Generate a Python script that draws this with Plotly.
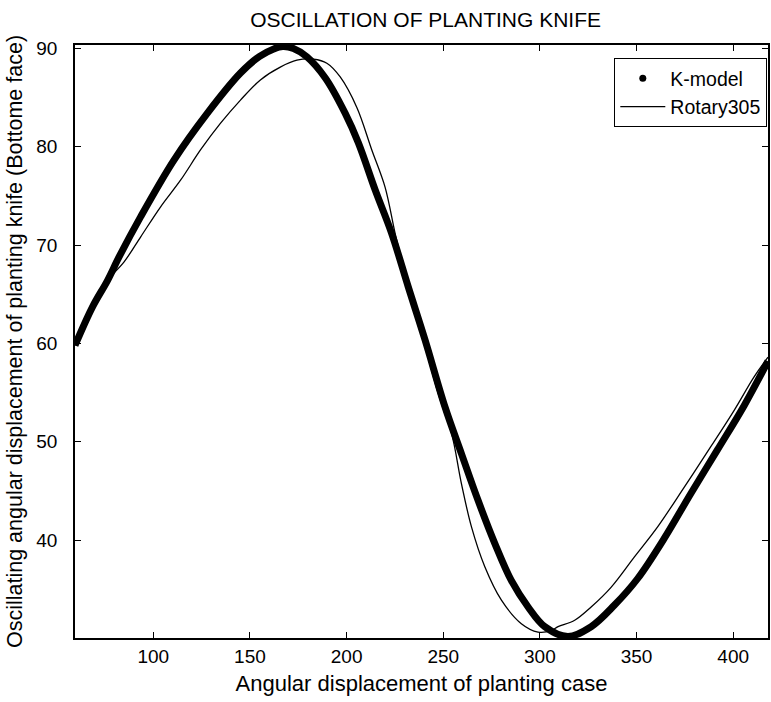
import plotly.graph_objects as go

# K-model (thick dotted curve)
k_x = [59.5, 68.5, 76.3, 82.3, 93.5, 110.7, 127.9, 145.1, 155.0, 162.3, 167.0, 172.5, 179.5,
       189.0, 199.3, 206.1, 214.8, 223.3, 231.9, 240.6, 250.9, 259.4, 268.0, 276.7, 285.2,
       293.9, 302.5, 314.5, 326.5, 338.6, 350.6, 364.4, 378.1, 391.9, 405.7, 418.0]
k_y = [59.8, 63.7, 66.4, 68.8, 72.9, 78.65, 83.4, 87.5, 89.2, 89.95, 90.2, 90.0, 89.15,
       87.0, 83.4, 80.4, 75.6, 71.2, 65.75, 60.35, 53.55, 48.8, 44.05, 39.65, 35.9,
       33.2, 31.2, 30.2, 31.2, 33.4, 36.1, 40.2, 44.75, 49.2, 53.7, 58.2]

# Rotary305 (thin line)
r_x = [59.5, 68.5, 76.3, 84.9, 93.5, 103.8, 114.1, 124.5, 134.8, 145.1, 155.4, 165.7, 174.3,
       182.9, 189.8, 196.7, 205.3, 213.0, 219.9, 225.1, 228.5, 233.6, 240.5, 247.4, 254.3,
       259.4, 264.6, 271.5, 280.1, 290.4, 299.0, 305.9, 309.4, 318.0, 326.5, 336.8, 348.9,
       360.9, 374.7, 388.4, 400.5, 410.8, 418.0]
r_y = [59.8, 63.7, 66.4, 68.3, 70.85, 73.9, 76.6, 79.7, 82.4, 84.75, 86.8, 88.1, 88.8,
       88.9, 88.5, 87.1, 84.0, 79.7, 75.9, 71.2, 68.5, 64.7, 59.8, 54.9, 50.85,
       45.75, 41.35, 37.3, 33.9, 31.5, 30.65, 30.8, 31.2, 31.85, 33.2, 35.2, 38.3,
       41.35, 45.4, 49.5, 53.2, 56.6, 58.6]

x_ticks = [100, 150, 200, 250, 300, 350, 400]
y_ticks = [40, 50, 60, 70, 80, 90]

FONT = "Liberation Sans Narrow, Arial Narrow, Liberation Sans, Arial, sans-serif"

fig = go.Figure()
fig.add_trace(go.Scatter(x=k_x, y=k_y, mode="lines", line=dict(color="black", width=7, shape="spline"),
                         showlegend=False, hoverinfo="skip"))
fig.add_trace(go.Scatter(x=[None], y=[None], mode="markers", name="K-model",
                         marker=dict(color="black", size=7)))
fig.add_trace(go.Scatter(x=r_x, y=r_y, mode="lines", name="Rotary305",
                         line=dict(color="black", width=1.3, shape="spline")))

axis_common = dict(showline=True, linecolor="black", linewidth=1.5, mirror="ticks",
                   ticks="inside", ticklen=6, tickcolor="black", showgrid=False, zeroline=False,
                   tickfont=dict(family=FONT, size=19, color="black"))

fig.update_layout(
    width=771, height=702,
    margin=dict(l=75, r=1, t=45, b=64),
    paper_bgcolor="white", plot_bgcolor="white",
    font=dict(family=FONT, color="black"),
    title=dict(text="OSCILLATION OF PLANTING KNIFE", x=0.552, xanchor="center", y=0.982, yanchor="top",
               font=dict(family=FONT, size=21, color="black")),
    xaxis=dict(range=[59.5, 418], tickvals=x_ticks, ticktext=[str(v) for v in x_ticks],
               title=dict(text="Angular displacement of planting case", standoff=10,
                          font=dict(family=FONT, size=22, color="black")),
               **axis_common),
    yaxis=dict(range=[30.05, 90.35], tickvals=y_ticks, ticktext=[str(v) for v in y_ticks],
               ticklabelstandoff=12,
               title=dict(text="Oscillating angular displacement of planting knife (Bottome face)", standoff=8,
                          font=dict(family=FONT, size=21.5, color="black")),
               **axis_common),
    legend=dict(x=0.999, xanchor="right", y=0.978, yanchor="top", bgcolor="white",
                bordercolor="black", borderwidth=1, font=dict(family=FONT, size=19.5, color="black"),
                tracegroupgap=0, itemwidth=45, entrywidth=130, entrywidthmode="pixels"),
)

fig.write_html("out.html")
